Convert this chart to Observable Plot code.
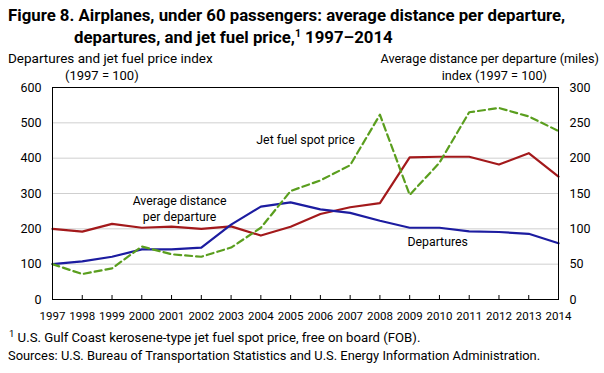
<!DOCTYPE html>
<html>
<head>
<meta charset="utf-8">
<script src="https://cdn.jsdelivr.net/npm/d3@7"></script>
<script src="https://cdn.jsdelivr.net/npm/@observablehq/plot@0.6"></script>
<style>
  html, body { margin: 0; padding: 0; background: #fff; }
  #chart { width: 604px; height: 373px; }
  svg { font-family: Roboto, "Noto Sans", sans-serif; }
</style>
</head>
<body>
<div id="chart"></div>
<script>
const years = [1997,1998,1999,2000,2001,2002,2003,2004,2005,2006,2007,2008,2009,2010,2011,2012,2013,2014];
const departures = [100,108,121,142,142,147,212,263,275,255,245,223,203,203,193,191,186,159];
const avgDistance = [100,96,107,101.5,103,100,103.5,90.5,103,121,130.5,136.5,201,202,202,191,207,174];
const jetFuel = [100,72,88,150,128,121,147,203,307,337,380,523,296,387,530,542,518,477];
const leftTicks = [0,100,200,300,400,500,600];
const rightTicks = [0,50,100,150,200,250,300];
const gridTicks = [100,200,300,400,500];

const seriesLabels = [
  {x: 2001.27, y: 259, text: "Average distance\nper departure"},
  {x: 2005.5, y: 456, text: "Jet fuel spot price"},
  {x: 2009.94, y: 167, text: "Departures"}
];

const factor = leftTicks[leftTicks.length-1] / rightTicks[rightTicks.length-1];
const rows = years.map((yr, i) => ({year: yr, dep: departures[i], dist: avgDistance[i] * factor, fuel: jetFuel[i]}));

const W = 604, H = 373, MT = 87, MB = 74, ML = 52, MR = 46;

const chart = Plot.plot({
  width: W, height: H,
  marginTop: MT, marginBottom: MB, marginLeft: ML, marginRight: MR,
  x: {domain: [years[0], years[years.length-1]]},
  y: {domain: [0, leftTicks[leftTicks.length-1]]},
  style: {fontFamily: "Roboto, 'Noto Sans', sans-serif", fontSize: "12px", color: "#000", background: "#fff"},
  marks: [
    Plot.gridY(gridTicks, {stroke: "#cfcfcf", strokeOpacity: 1, strokeWidth: 1}),
    Plot.tickX(years, {x: d => d, stroke: "#000", insetTop: H - MT - MB - 4}),
    Plot.axisX(years, {tickSize: 0, tickPadding: 12, tickFormat: d => String(d), fontSize: 11.5, label: null}),
    Plot.axisY(leftTicks, {anchor: "left", tickSize: 0, tickPadding: 11, fontSize: 12.5, label: null}),
    Plot.axisY(rightTicks.map(v => v * factor), {anchor: "right", tickSize: 0, tickPadding: 11, fontSize: 12.5, tickFormat: d => String(d / factor), label: null}),
    Plot.lineY(rows, {x: "year", y: "dist", stroke: "#a3191b", strokeWidth: 2.2}),
    Plot.lineY(rows, {x: "year", y: "dep", stroke: "#1c1ca0", strokeWidth: 2.2}),
    Plot.lineY(rows, {x: "year", y: "fuel", stroke: "#5a9e1e", strokeWidth: 2.2, strokeDasharray: "7,4"}),
    Plot.frame({stroke: "#000", strokeWidth: 1}),
    Plot.text(seriesLabels, {x: "x", y: "y", text: "text", fontSize: 12.3, fill: "#000", lineHeight: 1.3})
  ]
});
document.getElementById("chart").appendChild(chart);

const svg = d3.select(chart);
function addText(x, y, txt, opts = {}) {
  const t = svg.append("text")
    .attr("x", x).attr("y", y)
    .attr("font-size", opts.size || 13)
    .attr("font-weight", opts.weight || "normal")
    .attr("text-anchor", opts.anchor || "start")
    .attr("fill", "#000");
  return t.text(txt);
}
addText(8, 21, "Figure 8. Airplanes, under 60 passengers: average distance per departure,", {size: 16.8, weight: "bold"});
const t2 = addText(74, 43, "departures, and jet fuel price,", {size: 16.8, weight: "bold"});
t2.append("tspan").attr("font-size", 10.5).attr("dy", -6).text("1");
t2.append("tspan").attr("dy", 6).text(" 1997–2014");
addText(8, 63, "Departures and jet fuel price index", {size: 13.5});
addText(65, 80, "(1997 = 100)", {size: 13});
addText(599, 63, "Average distance per departure (miles)", {size: 12.7, anchor: "end"});
addText(547, 80, "index (1997 = 100)", {size: 12.7, anchor: "end"});
const f1 = addText(9, 342, "", {size: 13.2});
f1.append("tspan").attr("font-size", 9.5).attr("dy", -5).text("1");
f1.append("tspan").attr("dy", 5).text(" U.S. Gulf Coast kerosene-type jet fuel spot price, free on board (FOB).");
addText(8, 360, "Sources: U.S. Bureau of Transportation Statistics and U.S. Energy Information Administration.", {size: 12.9});
</script>
</body>
</html>
